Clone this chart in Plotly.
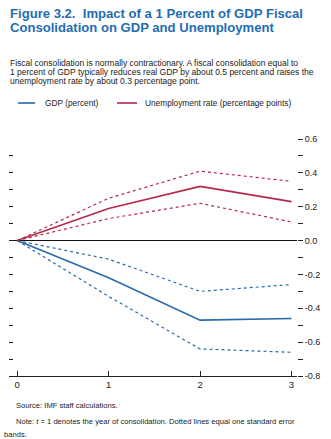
import plotly.graph_objects as go

years = [0, 1, 2, 3]
unemp = [0, 0.19, 0.32, 0.23]
unemp_hi = [0, 0.25, 0.41, 0.35]
unemp_lo = [0, 0.13, 0.22, 0.11]
gdp = [0, -0.22, -0.47, -0.46]
gdp_hi = [0, -0.11, -0.30, -0.26]
gdp_lo = [0, -0.33, -0.64, -0.66]

y_ticks = [round(-0.8 + 0.1 * i, 1) for i in range(15)]
y_labels = [f"{v:.1f}" if abs(round(v * 10)) % 2 == 0 else "" for v in y_ticks]
x_labels = ["0", "1", "2", "3"]

BLUE = "#2a6aa8"
RED = "#b52a4c"
TITLE_BLUE = "#1f6db3"
FONT = "Liberation Sans, Arial, sans-serif"

W, H = 331, 439
L, R, T, B = 9, 297, 139, 376

def px(x):
    return (x - L) / (R - L)

def py(y):
    return (B - y) / (B - T)

fig = go.Figure()
for vals, col in [(unemp_hi, RED), (unemp_lo, RED), (gdp_hi, BLUE), (gdp_lo, BLUE)]:
    fig.add_trace(go.Scatter(x=years, y=vals, mode="lines", showlegend=False,
                             line=dict(color=col, width=1.2, dash="dot")))
fig.add_trace(go.Scatter(x=years, y=gdp, mode="lines", name="GDP (percent)",
                         showlegend=False, line=dict(color=BLUE, width=1.6)))
fig.add_trace(go.Scatter(x=years, y=unemp, mode="lines",
                         name="Unemployment rate (percentage points)",
                         showlegend=False, line=dict(color=RED, width=1.6)))
# invisible trace for right axis
fig.add_trace(go.Scatter(x=[0], y=[0], yaxis="y2", mode="markers",
                         marker=dict(opacity=0), showlegend=False, hoverinfo="skip"))

fig.update_layout(
    width=W, height=H,
    margin=dict(l=L, r=W - R, t=T, b=H - B),
    paper_bgcolor="white", plot_bgcolor="white",
    font=dict(family=FONT, size=9, color="#222"),
    xaxis=dict(range=[-0.09, 3.06], tickvals=years, ticktext=x_labels,
               showgrid=False, zeroline=False, showline=True, linecolor="#222",
               linewidth=1, ticks="inside", ticklen=5, tickcolor="#222",
               tickfont=dict(size=9.5, color="#222")),
    yaxis=dict(range=[-0.8, 0.6], tickvals=y_ticks, showticklabels=False,
               showgrid=False, zeroline=True, zerolinecolor="#111", zerolinewidth=1.3,
               ticks="inside", ticklen=4, tickcolor="#222", showline=False),
    yaxis2=dict(range=[-0.8, 0.6], overlaying="y", side="right",
                tickvals=y_ticks, ticktext=y_labels, showgrid=False,
                zeroline=False, ticks="outside", ticklen=5, tickcolor="#222",
                showline=False, tickfont=dict(size=9, color="#222")),
    showlegend=False,
)

# manual legend
legend_items = [
    (18, 35, 43, "GDP (percent)", BLUE),
    (117, 137, 143, "Unemployment rate (percentage points)", RED),
]
for x0, x1, xt, label, col in legend_items:
    fig.add_shape(type="line", xref="paper", yref="paper", x0=px(x0), x1=px(x1),
                  y0=py(103), y1=py(103), line=dict(color=col, width=1.6))
    fig.add_annotation(x=px(xt), y=py(103), xref="paper", yref="paper", text=label,
                       showarrow=False, xanchor="left", yanchor="middle",
                       font=dict(size=8.3, color="#222", family=FONT))

anns = [
    (8, 13, "<b>Figure 3.2.  Impact of a 1 Percent of GDP Fiscal</b>", 13.1, TITLE_BLUE),
    (8, 28, "<b>Consolidation on GDP and Unemployment</b>", 13.1, TITLE_BLUE),
    (8, 63, "Fiscal consolidation is normally contractionary. A fiscal consolidation equal to", 8.5, "#222"),
    (8, 72, "1 percent of GDP typically reduces real GDP by about 0.5 percent and raises the", 8.5, "#222"),
    (8, 81, "unemployment rate by about 0.3 percentage point.", 8.5, "#222"),
    (14, 405, "Source: IMF staff calculations.", 7.6, "#222"),
    (14, 421, "Note: <i>t</i> = 1 denotes the year of consolidation. Dotted lines equal one standard error", 7.6, "#222"),
    (2, 434, "bands.", 7.6, "#222"),
]
for x, y, t, s, c in anns:
    fig.add_annotation(x=px(x), y=py(y), xref="paper", yref="paper", text=t,
                       showarrow=False, xanchor="left", yanchor="middle",
                       font=dict(size=s, color=c, family=FONT))

fig.write_html("out.html")
